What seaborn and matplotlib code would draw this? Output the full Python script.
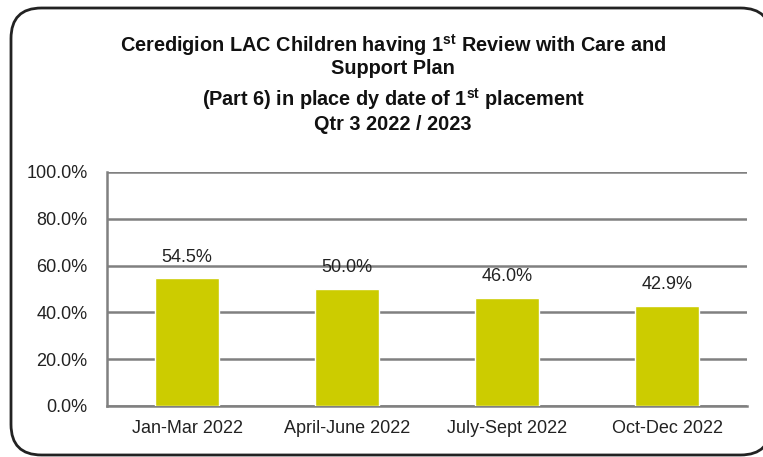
import matplotlib.pyplot as plt
import pandas as pd
import seaborn as sns
from matplotlib.patches import FancyBboxPatch
from matplotlib import font_manager

quarters = ["Jan-Mar 2022", "April-June 2022", "July-Sept 2022", "Oct-Dec 2022"]
pct = [54.5, 50.0, 46.0, 42.9]
yticks = [0, 20, 40, 60, 80, 100]

title_lines = [
    r"Ceredigion LAC Children having 1$^{\mathregular{st}}$ Review with Care and",
    "Support Plan",
    r"(Part 6) in place dy date of 1$^{\mathregular{st}}$ placement",
    "Qtr 3 2022 / 2023",
]

df = pd.DataFrame({"quarter": quarters, "pct": pct})

sns.set_style("white")
names = {f.name for f in font_manager.fontManager.ttflist}
narrow = "Liberation Sans Narrow" if "Liberation Sans Narrow" in names else "Liberation Sans"
plt.rcParams["font.family"] = [narrow, "DejaVu Sans"]
plt.rcParams["mathtext.fontset"] = "custom"
plt.rcParams["mathtext.rm"] = narrow

fig = plt.figure(figsize=(7.63, 4.57), dpi=100)

# rounded border round the whole chart
box = FancyBboxPatch(
    (11 / 763, 2 / 457), 760 / 763, 447 / 457,
    boxstyle="round,pad=0,rounding_size=0.04",
    transform=fig.transFigure,
    facecolor="white", edgecolor="#222222", linewidth=2,
    mutation_aspect=763 / 457,
    zorder=-5,
)
fig.patches.append(box)

ax = fig.add_axes([107 / 763, 51 / 457, 640 / 763, 234 / 457])
ax.set_facecolor("none")
ax.set_zorder(2)

sns.barplot(data=df, x="quarter", y="pct", color="#cccc00", width=0.4,
            saturation=1, ax=ax, zorder=3)

ax.set_ylim(0, 100)
ax.set_xlim(-0.5, 3.5)
ax.set_yticks(yticks)
ax.set_yticklabels([f"{v:.1f}%" for v in yticks])
ax.set_xlabel("")
ax.set_ylabel("")
ax.tick_params(axis="both", length=0, labelsize=13, colors="#222222")
ax.tick_params(axis="y", pad=14)
ax.tick_params(axis="x", pad=10)

ax.grid(axis="y", color="#808080", linewidth=1.8, zorder=0)
ax.set_axisbelow(True)
for s in ["top", "right"]:
    ax.spines[s].set_visible(False)
for s in ["left", "bottom"]:
    ax.spines[s].set_color("#808080")
    ax.spines[s].set_linewidth(1.8)

for i, v in enumerate(pct):
    ax.text(i, v + 5.5, f"{v:.1f}%", ha="center", va="bottom",
            fontsize=13, color="#222222")

ys = [45, 69, 99, 125]
for line, y in zip(title_lines, ys):
    fig.text(393 / 763, 1 - y / 457, line, ha="center", va="center",
             fontsize=14.3, fontweight="bold", color="#111111")

fig.savefig("out.png", dpi=100)
